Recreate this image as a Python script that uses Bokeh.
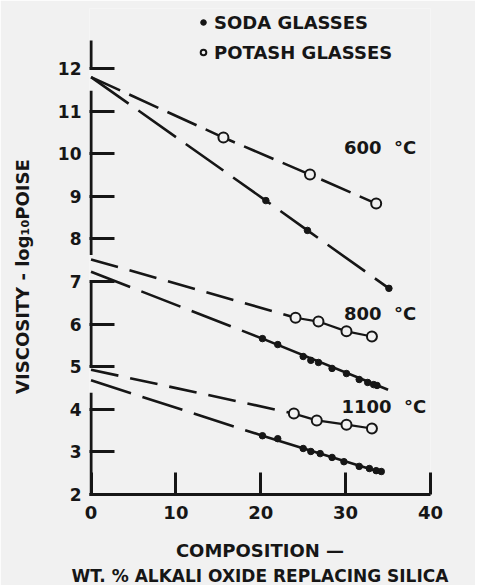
from bokeh.plotting import figure
from bokeh.models import (Range1d, FixedTicker, Legend, LegendItem, Title)
from bokeh.embed import file_html
from bokeh.resources import INLINE

# ---------------- data ----------------
# 600 C
intercept_600 = 11.8
soda600_x = [20.6, 25.5, 35.1]
soda600_y = [8.9, 8.2, 6.84]
potash600_x = [15.6, 25.8, 33.6]
potash600_y = [10.38, 9.51, 8.83]

# 800 C
potash800_x = [24.1, 26.8, 30.1, 33.1]
potash800_y = [6.15, 6.06, 5.83, 5.71]
potash800_intercept = 7.52
soda800_x = [20.2, 22.0, 25.0, 25.9, 26.8, 28.4, 30.1, 31.6, 32.6, 33.3, 33.7]
soda800_y = [5.66, 5.52, 5.24, 5.15, 5.10, 4.96, 4.84, 4.70, 4.63, 4.58, 4.56]
soda800_line_x = [0, 20.2, 35.0]
soda800_line_y = [7.23, 5.66, 4.46]

# 1100 C
potash1100_x = [23.9, 26.6, 30.1, 33.1]
potash1100_y = [3.90, 3.74, 3.64, 3.55]
potash1100_intercept = 4.93
soda1100_x = [20.2, 22.0, 25.0, 25.9, 27.0, 28.4, 29.8, 31.6, 32.8, 33.6, 34.2]
soda1100_y = [3.38, 3.31, 3.08, 3.01, 2.96, 2.87, 2.77, 2.66, 2.61, 2.56, 2.54]
soda1100_line_x = [0, 20.2, 34.5]
soda1100_line_y = [4.68, 3.38, 2.50]

NB = "\u00a0"
temp_labels = ["600" + NB * 2 + "°C", "800" + NB * 2 + "°C", "1100" + NB * 2 + "°C"]
temp_label_x = [29.8, 29.8, 29.5]
temp_label_y = [10.15, 6.25, 4.07]

x_ticks = [0, 10, 20, 30, 40]
y_ticks = [2, 3, 4, 5, 6, 7, 8, 9, 10, 11, 12]
# broken y-axis line pieces (start, end)
yaxis_break_y0 = [12.0, 7.62, 5.0, 2.0]
yaxis_break_y1 = [12.66, 11.48, 6.98, 4.39]

BG = "#f1f1f1"
INK = "#161616"
FONT = "DejaVu Sans"

p = figure(frame_width=341, frame_height=486,
           x_range=Range1d(-0.18, 40), y_range=Range1d(2, 13.41),
           output_backend="svg", toolbar_location=None,
           min_border_left=89, min_border_right=45, min_border_top=8,
           min_border_bottom=84)
p.background_fill_color = BG
p.border_fill_color = BG
p.outline_line_color = None
p.grid.visible = False

# x axis
xa = p.xaxis[0]
xa.ticker = FixedTicker(ticks=x_ticks)
xa.axis_line_width = 3
xa.axis_line_color = INK
xa.major_tick_in = 22
xa.major_tick_out = 0
xa.major_tick_line_width = 3
xa.major_tick_line_color = INK
xa.minor_tick_line_color = None
xa.major_label_text_font = FONT
xa.major_label_text_font_style = "bold"
xa.major_label_text_font_size = "18px"
xa.major_label_text_color = INK
xa.major_label_standoff = 11
xa.axis_label = "COMPOSITION —"
xa.axis_label_text_font = FONT
xa.axis_label_text_font_style = "bold"
xa.axis_label_text_font_size = "18px"
xa.axis_label_text_color = INK
xa.axis_label_standoff = 18

# y axis (line drawn as broken segments below)
ya = p.yaxis[0]
ya.ticker = FixedTicker(ticks=y_ticks)
ya.axis_line_color = None
ya.major_tick_in = 25
ya.major_tick_out = 0
ya.major_tick_line_width = 3
ya.major_tick_line_color = INK
ya.minor_tick_line_color = None
ya.major_label_text_font = FONT
ya.major_label_text_font_style = "bold"
ya.major_label_text_font_size = "17px"
ya.major_label_text_color = INK
ya.major_label_standoff = 8
ya.axis_label = "VISCOSITY - log₁₀POISE" + NB * 8
ya.axis_label_text_font = FONT
ya.axis_label_text_font_style = "bold"
ya.axis_label_text_font_size = "18px"
ya.axis_label_text_color = INK
ya.axis_label_standoff = 22

p.add_layout(Title(text="WT. % ALKALI OXIDE REPLACING SILICA", align="center",
                   text_font=FONT, text_font_style="bold", text_font_size="17px",
                   text_color=INK, standoff=0, offset=10), "below")

p.segment(x0=[0] * len(yaxis_break_y0), y0=yaxis_break_y0,
          x1=[0] * len(yaxis_break_y1), y1=yaxis_break_y1,
          line_width=3, line_color=INK)

# ---------------- 600 C ----------------
p.line([0] + potash600_x, [intercept_600] + potash600_y, line_width=2.6,
       line_color=INK, line_dash="32 10")
p.line([0] + soda600_x, [intercept_600] + soda600_y, line_width=2.6,
       line_color=INK, line_dash="46 12")

# ---------------- 800 C ----------------
p.line([0, potash800_x[0]], [potash800_intercept, potash800_y[0]],
       line_width=2.6, line_color=INK, line_dash="28 12")
p.line(potash800_x, potash800_y, line_width=2.2, line_color=INK)
p.line(soda800_line_x[:2], soda800_line_y[:2], line_width=2.6,
       line_color=INK, line_dash="42 12")
p.line(soda800_line_x[1:], soda800_line_y[1:], line_width=2.6, line_color=INK)

# ---------------- 1100 C ----------------
p.line([0, potash1100_x[0]], [potash1100_intercept, potash1100_y[0]],
       line_width=2.6, line_color=INK, line_dash="28 12")
p.line(potash1100_x, potash1100_y, line_width=2.2, line_color=INK)
p.line(soda1100_line_x[:2], soda1100_line_y[:2], line_width=2.6,
       line_color=INK, line_dash="42 12")
p.line(soda1100_line_x[1:], soda1100_line_y[1:], line_width=2.6, line_color=INK)

# ---------------- markers ----------------
soda_x = soda600_x + soda800_x + soda1100_x
soda_y = soda600_y + soda800_y + soda1100_y
potash_x = potash600_x + potash800_x + potash1100_x
potash_y = potash600_y + potash800_y + potash1100_y

r_soda = p.scatter(soda_x, soda_y, marker="circle", size=6.5,
                   fill_color=INK, line_color=INK)
r_potash = p.scatter(potash_x, potash_y, marker="circle", size=10,
                     fill_color=BG, line_color=INK, line_width=2)

p.text(x=temp_label_x, y=temp_label_y, text=temp_labels,
       text_font={"value": FONT}, text_font_style="bold",
       text_font_size="18px", text_color=INK,
       text_align="left", text_baseline="middle")

legend = Legend(items=[LegendItem(label="SODA GLASSES", renderers=[r_soda]),
                       LegendItem(label="POTASH GLASSES", renderers=[r_potash])],
                location=(107, 430), orientation="vertical",
                background_fill_alpha=0, border_line_color=None,
                label_text_font=FONT, label_text_font_style="bold",
                label_text_font_size="18px", label_text_color=INK,
                glyph_width=14, glyph_height=24, label_height=24,
                label_standoff=4, spacing=6, padding=0, margin=0)
p.add_layout(legend)

open("out.html", "w").write(file_html(p, INLINE))
